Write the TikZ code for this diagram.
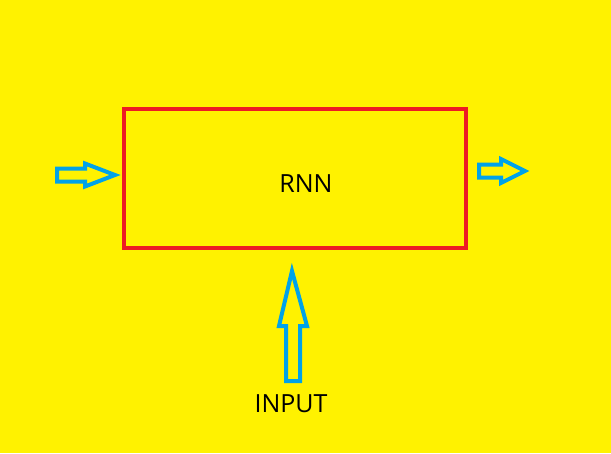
\documentclass[tikz,border=0pt]{standalone}
\usepackage{fontspec}
\setmainfont{Open Sans}
\definecolor{bgyellow}{RGB}{255,242,0}
\definecolor{boxred}{RGB}{237,28,36}
\definecolor{arrowblue}{RGB}{0,162,232}
\tikzset{
  rnnbox/.style={draw=boxred, line width=4pt, minimum width=342pt, minimum height=139pt, inner sep=0pt},
  blockarrow/.style={draw=arrowblue, line width=4pt, line join=miter},
  label/.style={font=\fontsize{25}{30}\selectfont, text=black}
}
\begin{document}
\begin{tikzpicture}[x=1pt, y=-1pt]
    % Background
    \fill[bgyellow] (0,0) rectangle (611,453);
    \useasboundingbox (0,0) rectangle (611,453);

    % RNN cell
    \node[rnnbox] (rnn) at (295,178.5) {};
    \node[label] (rnnlabel) at (306,184) {RNN};

    % Hidden state in (left)
    \draw[blockarrow] (57,168.5) -- (85,168.5) -- (85,163.5) -- (115,175) -- (85,186.5)
        -- (85,181.5) -- (57,181.5) -- cycle;

    % Hidden state out (right)
    \draw[blockarrow] (479,164.5) -- (501,164.5) -- (501,159) -- (525,171) -- (501,183)
        -- (501,177.5) -- (479,177.5) -- cycle;

    % Input arrow
    \draw[blockarrow] (292,271) -- (307,326) -- (300,326) -- (300,381) -- (286,381)
        -- (286,326) -- (279,326) -- cycle;
    \node[label] (input) at (291,404) {INPUT};
\end{tikzpicture}
\end{document}
